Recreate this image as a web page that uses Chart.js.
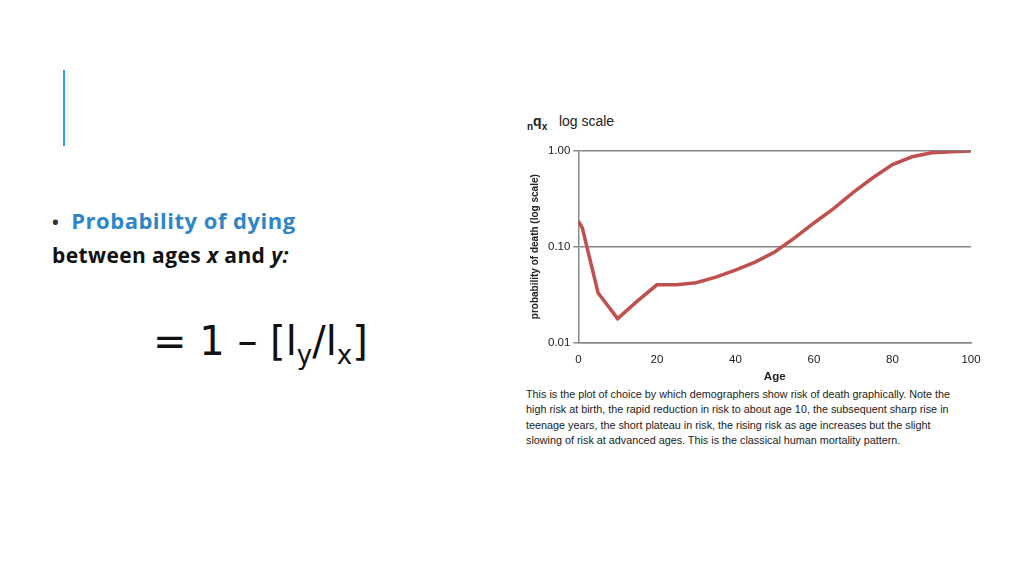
<!DOCTYPE html>
<html><head><meta charset="utf-8">
<script src="https://cdn.jsdelivr.net/npm/chart.js@4"></script>
<style>
body{margin:0;width:1024px;height:576px;background:#fff;position:relative;overflow:hidden;font-family:"Liberation Sans",Arial,sans-serif}
#bar{position:absolute;left:63px;top:70px;width:2px;height:76px;background:#2aa3d8}
#t1{position:absolute;left:52px;top:205px;font:bold 22px "Open Sans","DejaVu Sans",sans-serif;color:#2e86c8;letter-spacing:0.5px}
#t1 span{color:#333;margin-right:12px;font-size:18px}
#t2{position:absolute;left:52px;top:241px;font:bold 21px "Open Sans","DejaVu Sans",sans-serif;color:#111;letter-spacing:0.4px}
#f{position:absolute;left:153px;top:318px;font:40px "DejaVu Sans",sans-serif;color:#111}
#f sub{font-size:26px}
#hd{position:absolute;left:527px;top:113px;font-size:14px;color:#222}
#wrap{position:absolute;left:505px;top:140px;width:480px;height:245px}
#cap{position:absolute;left:526px;top:387px;width:440px;font-size:10.8px;line-height:15.3px;color:#222}
</style></head><body>
<div id="bar"></div>
<div id="t1"><span>•</span>Probability of dying</div>
<div id="t2">between ages <i>x</i> and <i>y:</i></div>
<div id="f">= 1 – [l<sub>y</sub>/l<sub>x</sub>]</div>
<div id="hd"><b><sub style="font-size:10px">n</sub>q<sub style="font-size:10px">x</sub></b>&nbsp;&nbsp;&nbsp;log scale</div>
<div id="wrap"><canvas id="c"></canvas></div>
<div id="cap">This is the plot of choice by which demographers show risk of death graphically. Note the high risk at birth, the rapid reduction in risk to about age 10, the subsequent sharp rise in teenage years, the short plateau in risk, the rising risk as age increases but the slight slowing of risk at advanced ages. This is the classical human mortality pattern.</div>
<script>
const ages=[0,1,5,10,15,20,25,30,35,40,45,50,55,60,65,70,75,80,85,90,95,100];
const qx=[0.185,0.157,0.033,0.0177,0.027,0.040,0.040,0.042,0.048,0.057,0.069,0.088,0.123,0.177,0.25,0.37,0.525,0.72,0.87,0.96,0.98,1.0];
const yTicks=[0.01,0.1,1];
new Chart(document.getElementById('c'),{type:'line',
data:{datasets:[{data:ages.map((a,i)=>({x:a,y:qx[i]})),borderColor:'#c0504d',borderWidth:3.5,pointRadius:0,tension:0}]},
options:{responsive:true,maintainAspectRatio:false,animation:false,
layout:{padding:{left:20,right:14,top:11,bottom:1}},
plugins:{legend:{display:false},tooltip:{enabled:false}},
scales:{
x:{type:'linear',min:0,max:100,ticks:{stepSize:20,color:'#222',font:{size:11.5,family:'Liberation Sans'}},
grid:{display:false,drawTicks:true},border:{color:'#888',width:1.5},
title:{display:true,text:'Age',color:'#222',font:{size:11.5,weight:'bold',family:'Liberation Sans'},padding:0}},
y:{type:'logarithmic',min:0.01,max:1,
afterBuildTicks:s=>{s.ticks=yTicks.map(v=>({value:v}));},
ticks:{callback:v=>v.toFixed(2),color:'#222',font:{size:11.5,family:'Liberation Sans'}},
grid:{color:'#888',lineWidth:1.5,tickLength:5},border:{color:'#888',width:1.5},
title:{display:true,text:'probability of death (log scale)',color:'#222',font:{size:10,weight:'bold',family:'Liberation Sans'}}}}}});
</script></body></html>
